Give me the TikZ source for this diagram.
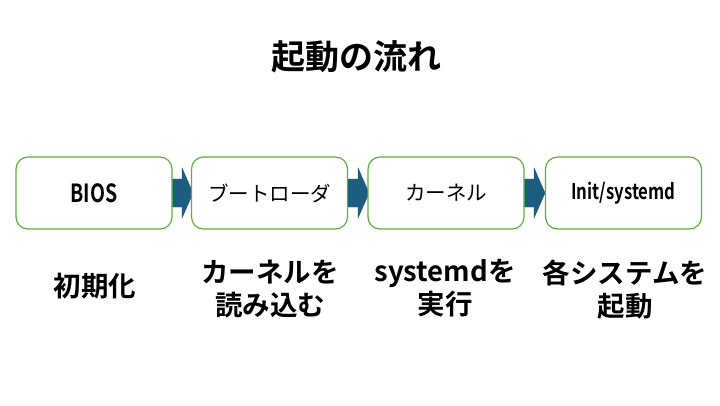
\documentclass[tikz,border=0pt]{standalone}
\usepackage{fontspec}
\setmainfont{Noto Sans CJK JP}
\newfontfamily\jpbold{Noto Sans CJK JP Bold}
\newfontfamily\latincond[FakeStretch=0.78]{Noto Sans CJK JP Bold}
\usetikzlibrary{shapes.arrows}
\definecolor{boxgreen}{HTML}{5EAE3E}
\definecolor{arrowblue}{HTML}{1B5E80}
\tikzset{
  stepbox/.style={draw=boxgreen, line width=1.2pt, rounded corners=12pt, fill=white,
    minimum width=156pt, minimum height=72pt, inner sep=0pt, font=\fontsize{20.5pt}{24pt}\selectfont},
  flowarrow/.style={fill=arrowblue, draw=arrowblue!80!black, line width=0.4pt},
  desc/.style={align=center, font=\jpbold\fontsize{27.5pt}{33pt}\selectfont},
}
\begin{document}
\begin{tikzpicture}[x=1pt,y=-1pt]
\useasboundingbox (0,0) rectangle (720,405);
\node[font=\jpbold\fontsize{34pt}{38pt}\selectfont] (title) at (356,57) {起動の流れ};
% arrows (drawn first so boxes overlap slightly)
\foreach \i/\x in {a1/172, a2/348, a3/524} {
  \draw[flowarrow] (\x,179) -- (\x+10,179) -- (\x+10,168) -- (\x+21,193) -- (\x+10,218) -- (\x+10,207) -- (\x,207) -- cycle;
}
\node[stepbox] (b1) at (94,193) {\latincond\fontsize{25pt}{28pt}\selectfont BIOS};
\node[stepbox] (b2) at (269.5,193) {ブートローダ};
\node[stepbox] (b3) at (446,193) {カーネル};
\node[stepbox] (b4) at (623.5,193) {\latincond\fontsize{21.5pt}{24pt}\selectfont Init/systemd};
\node[desc, anchor=north] (d1) at (95,270) {初期化};
\node[desc, anchor=north] (d2) at (270,256) {カーネルを\\読み込む};
\node[desc, anchor=north] (d3) at (445,256) {systemdを\\実行};
\node[desc, anchor=north] (d4) at (625,256) {各システムを\\起動};
\end{tikzpicture}
\end{document}
